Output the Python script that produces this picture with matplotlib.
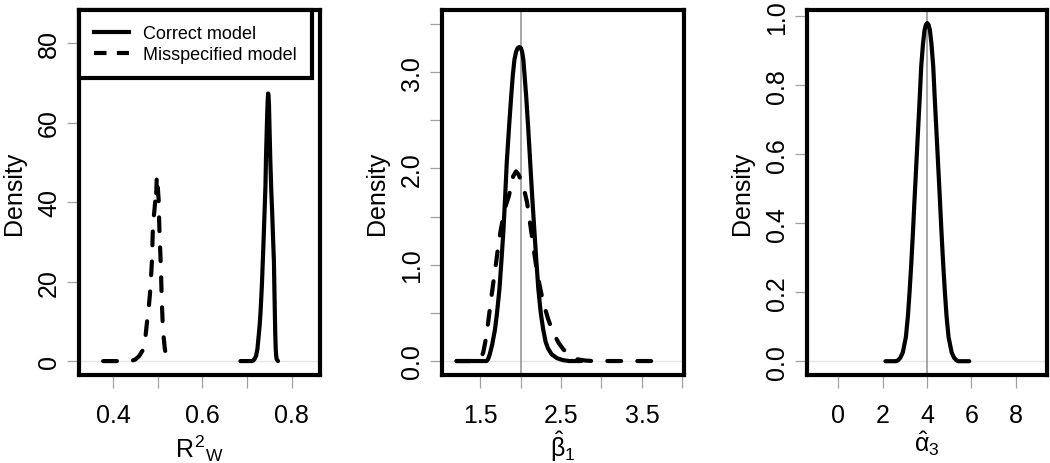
import matplotlib
matplotlib.use("Agg")
import matplotlib.pyplot as plt
from matplotlib.lines import Line2D

plt.rcParams['font.family'] = ['Liberation Sans', 'DejaVu Sans']
plt.rcParams['mathtext.fontset'] = 'custom'
plt.rcParams['mathtext.rm'] = 'Liberation Sans'
plt.rcParams['mathtext.it'] = 'Liberation Sans'
plt.rcParams['mathtext.bf'] = 'Liberation Sans:bold'
plt.rcParams['mathtext.sf'] = 'Liberation Sans'

# ---------------- data ----------------
legend_labels = ["Correct model", "Misspecified model"]

# Panel 1: R^2_W
r2_correct_x = [0.685, 0.711, 0.714, 0.717, 0.720, 0.723, 0.726, 0.728, 0.730, 0.733,
                0.735, 0.737, 0.739, 0.741, 0.742, 0.743, 0.744, 0.745, 0.746, 0.747,
                0.748, 0.749, 0.750, 0.751, 0.752, 0.754, 0.756, 0.758, 0.760, 0.761,
                0.762, 0.763, 0.764, 0.765, 0.766, 0.769]
r2_correct_y = [0.0, 0.0, 0.15, 0.6, 1.3, 3.0, 6.5, 9.0, 12.3, 19.0,
                24.9, 31.0, 37.5, 44.0, 50.0, 54.5, 58.5, 62.5, 65.5, 67.3,
                66.5, 64.0, 59.0, 54.5, 50.0, 43.0, 37.5, 31.0, 24.9, 18.0,
                12.3, 6.5, 3.0, 1.3, 0.5, 0.0]
r2_missp_x = [0.378, 0.420, 0.440, 0.450, 0.458, 0.466, 0.472, 0.476, 0.480, 0.483,
              0.485, 0.487, 0.489, 0.491, 0.493, 0.495, 0.496, 0.497, 0.498, 0.500,
              0.502, 0.504, 0.507, 0.509, 0.511, 0.513, 0.516, 0.520, 0.525, 0.531]
r2_missp_y = [0.0, 0.0, 0.0, 0.4, 1.2, 2.6, 5.5, 9.7, 13.5, 17.3,
              21.0, 24.9, 32.4, 36.0, 38.3, 41.0, 40.0, 43.0, 46.7, 44.0,
              40.8, 32.4, 24.0, 15.6, 10.0, 6.4, 3.0, 0.9, 0.2, 0.0]

# Panel 2: beta_1 hat
b1_correct_x = [1.21, 1.58, 1.60, 1.62, 1.65, 1.685, 1.71, 1.74, 1.765, 1.79,
                1.81, 1.83, 1.86, 1.885, 1.905, 1.925, 1.945, 1.965, 1.985, 2.005,
                2.02, 2.035, 2.05, 2.07, 2.095, 2.12, 2.145, 2.17, 2.195, 2.22,
                2.25, 2.28, 2.31, 2.34, 2.385, 2.45, 2.52, 2.60, 2.75]
b1_correct_y = [0.0, 0.0, 0.02, 0.07, 0.17, 0.33, 0.50, 0.75, 1.05, 1.37,
                1.70, 2.06, 2.45, 2.75, 2.97, 3.13, 3.21, 3.25, 3.26, 3.25,
                3.21, 3.13, 2.97, 2.75, 2.42, 2.06, 1.70, 1.37, 1.05, 0.75,
                0.50, 0.33, 0.20, 0.13, 0.07, 0.03, 0.01, 0.0, 0.0]
b1_missp_x = [1.21, 1.48, 1.51, 1.54, 1.57, 1.60, 1.63, 1.665, 1.70, 1.73,
              1.76, 1.79, 1.82, 1.855, 1.88, 1.91, 1.945, 1.98, 2.015, 2.05,
              2.08, 2.11, 2.14, 2.17, 2.20, 2.24, 2.28, 2.34, 2.40, 2.47,
              2.53, 2.61, 2.69, 2.80, 2.90, 3.62]
b1_missp_y = [0.0, 0.0, 0.03, 0.09, 0.22, 0.40, 0.60, 0.82, 1.03, 1.23,
              1.38, 1.51, 1.62, 1.71, 1.80, 1.92, 1.97, 1.93, 1.85, 1.76,
              1.65, 1.48, 1.30, 1.12, 0.95, 0.77, 0.61, 0.44, 0.30, 0.19,
              0.12, 0.06, 0.02, 0.005, 0.0, 0.0]
b1_true = 2.0

# Panel 3: alpha_3 hat
a3_correct_x = [2.13, 2.62, 2.70, 2.80, 2.91, 3.05, 3.14, 3.215, 3.29, 3.365,
                3.44, 3.515, 3.59, 3.67, 3.74, 3.82, 3.89, 3.95, 4.01, 4.07,
                4.13, 4.20, 4.28, 4.35, 4.43, 4.505, 4.58, 4.655, 4.73, 4.805,
                4.88, 4.97, 5.11, 5.22, 5.32, 5.40, 5.90]
a3_correct_y = [0.0, 0.0, 0.003, 0.01, 0.025, 0.07, 0.13, 0.20, 0.28, 0.37,
                0.47, 0.565, 0.66, 0.76, 0.855, 0.92, 0.96, 0.975, 0.98, 0.975,
                0.96, 0.92, 0.855, 0.76, 0.66, 0.565, 0.47, 0.37, 0.28, 0.20,
                0.13, 0.07, 0.025, 0.01, 0.003, 0.0, 0.0]
a3_true = 4.0

# ticks
p1_xticks = [0.4, 0.5, 0.6, 0.7, 0.8]
p1_xticklabels = ["0.4", "", "0.6", "", "0.8"]
p1_yticks = [0, 20, 40, 60, 80]
p1_yticklabels = ["0", "20", "40", "60", "80"]
p2_xticks = [1.5, 2.0, 2.5, 3.0, 3.5, 4.0]
p2_xticklabels = ["1.5", "", "2.5", "", "3.5", ""]
p2_yticks = [0.0, 0.5, 1.0, 1.5, 2.0, 2.5, 3.0, 3.5]
p2_yticklabels = ["0.0", "", "1.0", "", "2.0", "", "3.0", ""]
p3_xticks = [0, 2, 4, 6, 8]
p3_xticklabels = ["0", "2", "4", "6", "8"]
p3_yticks = [0.0, 0.2, 0.4, 0.6, 0.8, 1.0]
p3_yticklabels = ["0.0", "0.2", "0.4", "0.6", "0.8", "1.0"]

xlabels = [r"$R^{2}{}_{W}$", r"$\hat{\beta}_{1}$", r"$\hat{\alpha}_{3}$"]

# ---------------- figure ----------------
W, H = 1050, 464
fig = plt.figure(figsize=(W / 100, H / 100), dpi=100)

def px_axes(left, right, top=11, bottom=376):
    return fig.add_axes([left / W, 1 - bottom / H, (right - left) / W, (bottom - top) / H])

ax1 = px_axes(79, 320)
ax2 = px_axes(442, 684)
ax3 = px_axes(807, 1047)

LW = 3.0
DASH = (3.3, 3.9)
TICK_GRAY = "#a0a0a0"

def style(ax, xt, xtl, yt, ytl, xlim, ylim, xlabel, lpad):
    ax.set_xlim(*xlim)
    ax.set_ylim(*ylim)
    ax.set_xticks(xt)
    ax.set_xticklabels(xtl)
    ax.set_yticks(yt)
    ax.set_yticklabels(ytl, rotation=90, va="center")
    for s in ax.spines.values():
        s.set_linewidth(3.0)
        s.set_color("black")
    ax.tick_params(axis="both", direction="out", length=9, width=0.9,
                   color=TICK_GRAY, labelsize=18)
    ax.tick_params(axis="x", pad=11)
    ax.tick_params(axis="y", pad=4)
    ax.axhline(0, color="#e6e6e6", lw=1.0, zorder=1)
    ax.set_ylabel("Density", fontsize=18, labelpad=8)
    ax.set_xlabel(xlabel, fontsize=18, labelpad=lpad)

# Panel 1
style(ax1, p1_xticks, p1_xticklabels, p1_yticks, p1_yticklabels,
      (0.324, 0.863), (-3.5, 88.3), xlabels[0], 4)
ax1.plot(r2_correct_x, r2_correct_y, color="black", lw=LW,
         solid_capstyle="round", solid_joinstyle="round", zorder=3)
ax1.plot(r2_missp_x, r2_missp_y, color="black", lw=LW, dashes=DASH,
         dash_capstyle="round", dash_joinstyle="round", zorder=3)
handles = [Line2D([], [], color="black", lw=LW),
           Line2D([], [], color="black", lw=LW, dashes=(3.0, 2.5))]
leg = ax1.legend(handles, legend_labels, loc="upper left", bbox_to_anchor=(0, 1),
                 borderaxespad=0, fontsize=13, frameon=True, fancybox=False,
                 edgecolor="black", framealpha=1, handlelength=1.9,
                 handletextpad=0.8, borderpad=0.85, labelspacing=0.2)
leg.get_frame().set_linewidth(3.0)

# Panel 2
style(ax2, p2_xticks, p2_xticklabels, p2_yticks, p2_yticklabels,
      (1.03, 4.02), (-0.145, 3.645), xlabels[1], 1)
ax2.axvline(b1_true, color=TICK_GRAY, lw=1.3, zorder=2)
ax2.plot(b1_correct_x, b1_correct_y, color="black", lw=LW,
         solid_capstyle="round", solid_joinstyle="round", zorder=3)
ax2.plot(b1_missp_x, b1_missp_y, color="black", lw=LW, dashes=DASH,
         dash_capstyle="round", dash_joinstyle="round", zorder=3)

# Panel 3
style(ax3, p3_xticks, p3_xticklabels, p3_yticks, p3_yticklabels,
      (-1.4, 9.4), (-0.04, 1.018), xlabels[2], 1)
ax3.axvline(a3_true, color=TICK_GRAY, lw=1.3, zorder=2)
ax3.plot(a3_correct_x, a3_correct_y, color="black", lw=LW,
         solid_capstyle="round", solid_joinstyle="round", zorder=3)

fig.savefig("out.png", dpi=100)
